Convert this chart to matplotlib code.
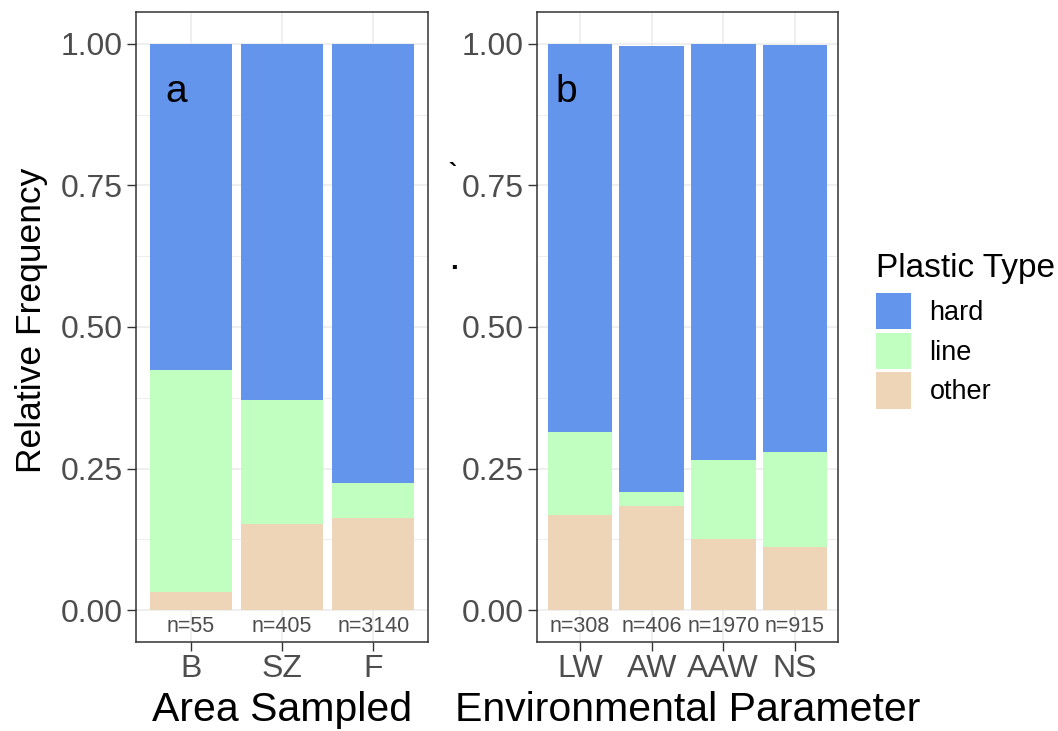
import matplotlib.pyplot as plt
from matplotlib.patches import Patch

plt.rcParams["font.family"] = ["Liberation Sans", "DejaVu Sans"]

# panel a: area sampled
area_sites = ["B", "SZ", "F"]
area_other = [0.033, 0.153, 0.163]
area_line = [0.391, 0.218, 0.061]
area_hard = [0.576, 0.629, 0.776]
area_n = ["n=55", "n=405", "n=3140"]

# panel b: environmental parameter
env_sites = ["LW", "AW", "AAW", "NS"]
env_other = [0.168, 0.184, 0.126, 0.111]
env_line = [0.146, 0.024, 0.139, 0.169]
env_hard = [0.686, 0.788, 0.735, 0.717]
env_n = ["n=308", "n=406", "n=1970", "n=915"]

types = ["hard", "line", "other"]
colors = {"hard": "#6495ED", "line": "#C1FFC1", "other": "#EED5B7"}

GRID = "#EBEBEB"
BORDER = "#333333"
TICKCOL = "#4D4D4D"


def draw_panel(ax, sites, other, line, hard, ns, letter, letter_x, xlabel):
    x = list(range(1, len(sites) + 1))
    ax.set_axisbelow(True)
    ax.bar(x, other, width=0.9, color=colors["other"], zorder=2)
    bottom = other
    ax.bar(x, line, width=0.9, bottom=bottom, color=colors["line"], zorder=2)
    bottom = [o + l for o, l in zip(other, line)]
    ax.bar(x, hard, width=0.9, bottom=bottom, color=colors["hard"], zorder=2)

    for xi, label in zip(x, ns):
        ax.text(xi, -0.028, label, ha="center", va="center", fontsize=15.5, color=TICKCOL, zorder=3)
    ax.text(letter_x, 0.915, letter, fontsize=28, color="black", va="center", ha="left", zorder=3)

    ax.set_xlim(0.4, len(sites) + 0.6)
    ax.set_ylim(-0.056, 1.056)
    ax.set_xticks(x)
    ax.set_xticklabels(sites)
    ax.set_yticks([0, 0.25, 0.5, 0.75, 1.0])
    ax.set_yticklabels(["0.00", "0.25", "0.50", "0.75", "1.00"])
    ax.set_yticks([0.125, 0.375, 0.625, 0.875], minor=True)
    ax.grid(True, which="major", color=GRID, linewidth=1.1)
    ax.grid(True, which="minor", axis="y", color=GRID, linewidth=0.6)
    ax.tick_params(axis="both", which="major", labelsize=23, colors=BORDER, labelcolor=TICKCOL,
                   length=6.5, width=1.0, pad=3)
    ax.tick_params(axis="x", which="major", pad=2)
    ax.tick_params(axis="y", which="minor", length=0)
    ax.set_xlabel(xlabel, fontsize=29.5, labelpad=5)
    for s in ax.spines.values():
        s.set_color(BORDER)
        s.set_linewidth(1.1)


fig = plt.figure(figsize=(10.58, 7.31), dpi=100)
ax_a = fig.add_axes([0.1285, 0.1218, 0.276, 0.8618])
ax_b = fig.add_axes([0.5076, 0.1218, 0.2845, 0.8618])

draw_panel(ax_a, area_sites, area_other, area_line, area_hard, area_n, "a", 0.72, "Area Sampled")
draw_panel(ax_b, env_sites, env_other, env_line, env_hard, env_n, "b", 0.66, "Environmental Parameter")
ax_a.set_ylabel("Relative Frequency", fontsize=25.5)
ax_a.yaxis.set_label_coords(-0.30, 0.51)

# stray marks in the original figure
fig.text(0.428, 0.762, "`", fontsize=18, color="black", ha="center", va="center", fontweight="bold")
fig.text(0.429, 0.641, ".", fontsize=20, color="black", ha="center", va="center", fontweight="bold")

handles = [Patch(facecolor=colors[t], edgecolor="none", label=t) for t in types]
leg = fig.legend(handles=handles, loc="upper left", bbox_to_anchor=(0.828, 0.654),
                 frameon=False, fontsize=19.5, title="Plastic Type", title_fontsize=24,
                 handlelength=1.3, handleheight=1.69, labelspacing=0.12, handletextpad=0.67,
                 borderaxespad=0, borderpad=0)
leg._legend_box.align = "left"
leg._legend_box.sep = 6.5

fig.savefig("out.png", dpi=100)
